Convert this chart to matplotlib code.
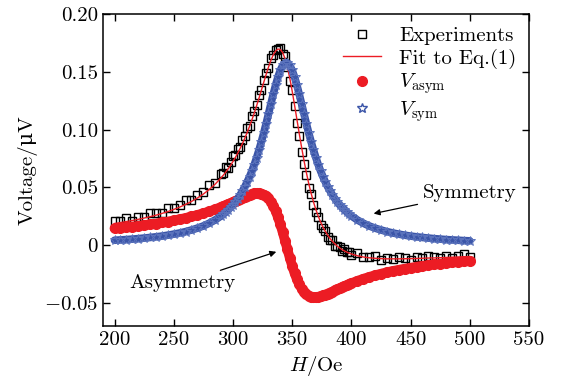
import numpy as np
import matplotlib
matplotlib.use("Agg")
import matplotlib.pyplot as plt

plt.rcParams['font.family'] = 'serif'
plt.rcParams['font.serif'] = ['cmr10', 'DejaVu Serif']
plt.rcParams['mathtext.fontset'] = 'cm'
plt.rcParams['axes.unicode_minus'] = False

# campo H (Oe)
H = [200, 205, 210, 215, 220, 225, 230, 235, 240, 245, 250, 255, 260, 265, 270, 275, 280, 285, 290,
     292, 294, 296, 298, 300, 302, 304, 306, 308, 310, 312, 314, 316, 318, 320, 322, 324, 326, 328,
     330, 332, 334, 336, 338, 340, 342, 344, 346, 348, 350, 352, 354, 356, 358, 360, 362, 364, 366,
     368, 370, 372, 374, 376, 378, 380, 382, 384, 386, 388, 390, 392, 394, 396, 398, 400,
     405, 410, 415, 420, 425, 430, 435, 440, 445, 450, 455, 460, 465, 470, 475, 480, 485, 490, 495, 500]

experiments = [0.0207, 0.0205, 0.0234, 0.0213, 0.0243, 0.0244, 0.0276, 0.0279, 0.0274, 0.0320,
               0.0319, 0.0349, 0.0392, 0.0388, 0.0438, 0.0462, 0.0522, 0.0538, 0.0613,
               0.0627, 0.0673, 0.0671, 0.0721, 0.0774, 0.0778, 0.0836, 0.0846, 0.0909, 0.0945,
               0.1015, 0.1028, 0.1114, 0.1164, 0.1217, 0.1303, 0.1341, 0.1429, 0.1487, 0.1531,
               0.1619, 0.1647, 0.1691, 0.1698, 0.1704, 0.1657, 0.1635, 0.1540, 0.1425, 0.1345,
               0.1204, 0.1059, 0.0945, 0.0805, 0.0702, 0.0608, 0.0493, 0.0439, 0.0344, 0.0288,
               0.0241, 0.0170, 0.0146, 0.0119, 0.0066, 0.0047, 0.0042, -0.0009, -0.0008, -0.0014,
               -0.0048, -0.0030, -0.0060, -0.0059, -0.0087,
               -0.0072, -0.0103, -0.0100, -0.0094, -0.0127, -0.0109, -0.0119, -0.0099, -0.0108, -0.0127,
               -0.0106, -0.0114, -0.0092, -0.0101, -0.0109, -0.0097, -0.0115, -0.0093, -0.0081, -0.0099]

fit = [0.0187, 0.0195, 0.0204, 0.0213, 0.0223, 0.0234, 0.0246, 0.0259, 0.0274, 0.0290,
       0.0309, 0.0329, 0.0352, 0.0378, 0.0408, 0.0442, 0.0482, 0.0528, 0.0583,
       0.0607, 0.0633, 0.0661, 0.0691, 0.0724, 0.0758, 0.0796, 0.0836, 0.0879, 0.0925,
       0.0975, 0.1028, 0.1084, 0.1144, 0.1207, 0.1273, 0.1341, 0.1409, 0.1477, 0.1541,
       0.1599, 0.1647, 0.1681, 0.1698, 0.1694, 0.1667, 0.1615, 0.1540, 0.1445, 0.1335,
       0.1214, 0.1089, 0.0965, 0.0845, 0.0732, 0.0628, 0.0533, 0.0449, 0.0374, 0.0308,
       0.0251, 0.0200, 0.0156, 0.0119, 0.0086, 0.0057, 0.0032, 0.0011, -0.0008, -0.0024,
       -0.0038, -0.0050, -0.0060, -0.0069, -0.0077,
       -0.0092, -0.0103, -0.0110, -0.0114, -0.0117, -0.0119, -0.0119, -0.0119, -0.0118, -0.0117,
       -0.0116, -0.0114, -0.0112, -0.0111, -0.0109, -0.0107, -0.0105, -0.0103, -0.0101, -0.0099]

v_asym = [0.0145, 0.0150, 0.0155, 0.0161, 0.0167, 0.0173, 0.0180, 0.0187, 0.0196, 0.0204,
          0.0214, 0.0224, 0.0235, 0.0248, 0.0261, 0.0276, 0.0292, 0.0310, 0.0330,
          0.0338, 0.0347, 0.0356, 0.0365, 0.0374, 0.0383, 0.0392, 0.0402, 0.0411, 0.0420,
          0.0428, 0.0436, 0.0442, 0.0447, 0.0450, 0.0450, 0.0446, 0.0438, 0.0425, 0.0405,
          0.0377, 0.0341, 0.0296, 0.0242, 0.0180, 0.0111, 0.0037, -0.0037, -0.0111, -0.0180,
          -0.0242, -0.0296, -0.0341, -0.0377, -0.0405, -0.0425, -0.0438, -0.0446, -0.0450, -0.0450,
          -0.0447, -0.0442, -0.0436, -0.0428, -0.0420, -0.0411, -0.0402, -0.0392, -0.0383, -0.0374,
          -0.0365, -0.0356, -0.0347, -0.0338, -0.0330,
          -0.0310, -0.0292, -0.0276, -0.0261, -0.0248, -0.0235, -0.0224, -0.0214, -0.0204, -0.0196,
          -0.0187, -0.0180, -0.0173, -0.0167, -0.0161, -0.0155, -0.0150, -0.0145, -0.0140, -0.0136]

v_sym = [0.0042, 0.0045, 0.0048, 0.0052, 0.0056, 0.0061, 0.0066, 0.0072, 0.0078, 0.0086,
         0.0095, 0.0105, 0.0117, 0.0131, 0.0147, 0.0166, 0.0190, 0.0218, 0.0253,
         0.0269, 0.0287, 0.0306, 0.0327, 0.0350, 0.0375, 0.0403, 0.0434, 0.0468, 0.0505,
         0.0547, 0.0592, 0.0642, 0.0697, 0.0758, 0.0824, 0.0895, 0.0971, 0.1052, 0.1136,
         0.1222, 0.1306, 0.1385, 0.1456, 0.1514, 0.1556, 0.1577, 0.1577, 0.1556, 0.1514,
         0.1456, 0.1385, 0.1306, 0.1222, 0.1136, 0.1052, 0.0971, 0.0895, 0.0824, 0.0758,
         0.0697, 0.0642, 0.0592, 0.0547, 0.0505, 0.0468, 0.0434, 0.0403, 0.0375, 0.0350,
         0.0327, 0.0306, 0.0287, 0.0269, 0.0253,
         0.0218, 0.0190, 0.0166, 0.0147, 0.0131, 0.0117, 0.0105, 0.0095, 0.0086, 0.0078,
         0.0072, 0.0066, 0.0061, 0.0056, 0.0052, 0.0048, 0.0045, 0.0042, 0.0039, 0.0037]

xticks = [200, 250, 300, 350, 400, 450, 500, 550]
yticks = [-0.05, 0, 0.05, 0.10, 0.15, 0.20]
ytick_labels = ['$-0.05$', '0', '0.05', '0.10', '0.15', '0.20']

red = '#ec1c24'
blue = '#3b55a8'
fs = 15

fig = plt.figure(figsize=(5.61, 3.83), dpi=100)
ax = fig.add_axes([0.183, 0.149, 0.760, 0.814])

ax.plot(H, experiments, 's', ms=6, mfc='none', mec='black', mew=1.0, label='Experiments')
ax.plot(H, fit, '-', color=red, lw=1.0, label='Fit to Eq.(1)')
# faixa densa de pontos (assim aparece no original)
ax.plot(H, v_asym, '-', color=red, lw=7, solid_capstyle='round', solid_joinstyle='round')
ax.plot(H, v_asym, 'o', ms=7, color=red, mec=red, label=r'$V_{\rm asym}$')
ax.plot(H, v_sym, '-', color=blue, lw=5.5, solid_capstyle='round', solid_joinstyle='round')
ax.plot(H, v_sym, '*', ms=7, mfc='none', mec='#5c74bd', mew=0.7)
ax.plot([], [], '*', ms=7, mfc='none', mec=blue, mew=1.0, label=r'$V_{\rm sym}$')

ax.annotate('Symmetry', xy=(418.8, 0.0273), xytext=(460.5, 0.0448),
            fontsize=fs, va='center', ha='left',
            arrowprops=dict(arrowstyle='-|>', color='black', lw=0.9, mutation_scale=9,
                            shrinkA=2, shrinkB=0))
ax.annotate('Asymmetry', xy=(336.6, -0.0058), xytext=(212.3, -0.0328),
            fontsize=fs, va='center', ha='left',
            arrowprops=dict(arrowstyle='-|>', color='black', lw=0.9, mutation_scale=9,
                            shrinkA=2, shrinkB=0))

ax.set_xlim(190, 550)
ax.set_ylim(-0.07, 0.20)
ax.set_xticks(xticks)
ax.set_xticklabels([str(t) for t in xticks])
ax.set_yticks(yticks)
ax.set_yticklabels(ytick_labels)
ax.tick_params(direction='in', top=True, right=True, length=5, width=1, labelsize=fs)
for s in ax.spines.values():
    s.set_linewidth(1.1)

ax.set_xlabel('$H$/Oe', fontsize=fs)
ax.set_ylabel('Voltage/μV', fontsize=fs, family=['cmr10', 'DejaVu Serif'])

ax.legend(loc='upper right', frameon=False, fontsize=fs, handlelength=1.8,
          handletextpad=0.9, labelspacing=0.15, borderaxespad=0.2)

fig.savefig('out.png', dpi=100)
